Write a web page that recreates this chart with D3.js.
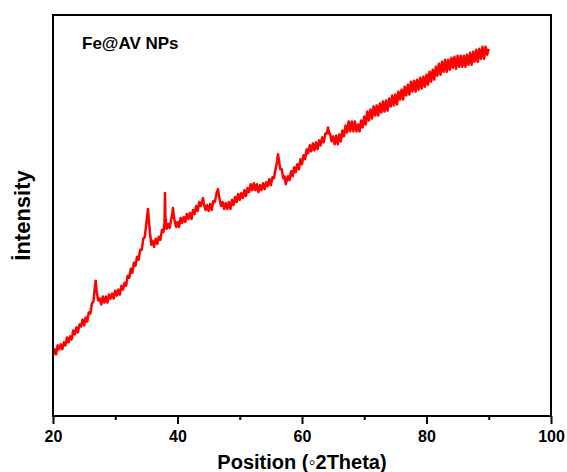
<!DOCTYPE html>
<html>
<head>
<meta charset="utf-8">
<script src="https://cdn.jsdelivr.net/npm/d3@7"></script>
<style>
  body { margin: 0; background: #fff; }
  text { font-family: Arial, "Liberation Sans", sans-serif; font-weight: bold; }
</style>
</head>
<body>
<svg id="chart" width="567" height="472"></svg>
<script>
// XRD pattern, Fe@AV NPs (a.u.)
var twoTheta = [
  20.00, 20.25, 20.50, 20.75, 21.00, 21.25, 21.50, 21.75,
  22.00, 22.25, 22.50, 22.75, 23.00, 23.25, 23.50, 23.75,
  24.00, 24.25, 24.50, 24.75, 25.00, 25.25, 25.50, 25.75,
  26.00, 26.25, 26.50, 26.70, 26.86, 27.00, 27.25, 27.50,
  27.75, 28.00, 28.25, 28.50, 28.75, 29.00, 29.25, 29.50,
  29.75, 30.00, 30.25, 30.50, 30.75, 31.00, 31.25, 31.50,
  31.75, 32.00, 32.25, 32.50, 32.75, 33.00, 33.25, 33.50,
  33.75, 34.00, 34.25, 34.50, 34.75, 35.00, 35.15, 35.26,
  35.40, 35.60, 35.80, 36.00, 36.25, 36.50, 36.75, 37.00,
  37.25, 37.50, 37.75, 37.92, 37.99, 38.06, 38.25, 38.50,
  38.75, 39.00, 39.15, 39.28, 39.40, 39.60, 39.80, 40.00,
  40.25, 40.50, 40.75, 41.00, 41.25, 41.50, 41.75, 42.00,
  42.25, 42.50, 42.75, 43.00, 43.25, 43.50, 43.75, 44.10,
  44.25, 44.50, 44.75, 45.00, 45.25, 45.50, 45.75, 46.00,
  46.25, 46.50, 46.75, 47.00, 47.25, 47.50, 47.75, 48.00,
  48.25, 48.50, 48.75, 49.00, 49.25, 49.50, 49.75, 50.00,
  50.25, 50.50, 50.75, 51.00, 51.25, 51.50, 51.75, 52.00,
  52.25, 52.50, 52.75, 53.00, 53.25, 53.50, 53.75, 54.00,
  54.25, 54.50, 54.75, 55.00, 55.25, 55.50, 55.75, 55.95,
  56.14, 56.30, 56.50, 56.75, 57.00, 57.20, 57.40, 57.75,
  58.00, 58.25, 58.50, 58.75, 59.00, 59.25, 59.50, 59.75,
  60.00, 60.25, 60.50, 60.75, 61.00, 61.25, 61.50, 61.75,
  62.00, 62.25, 62.50, 62.75, 63.00, 63.25, 63.50, 63.75,
  64.00, 64.18, 64.35, 64.50, 64.75, 65.00, 65.25, 65.50,
  65.75, 66.00, 66.25, 66.50, 66.75, 67.00, 67.25, 67.50,
  67.75, 68.00, 68.25, 68.50, 68.75, 69.00, 69.25, 69.50,
  69.75, 70.00, 70.25, 70.50, 70.75, 71.00, 71.25, 71.50,
  71.75, 72.00, 72.25, 72.50, 72.75, 73.00, 73.25, 73.50,
  73.75, 74.00, 74.25, 74.50, 74.75, 75.00, 75.25, 75.50,
  75.75, 76.00, 76.25, 76.50, 76.75, 77.00, 77.25, 77.50,
  77.75, 78.00, 78.25, 78.50, 78.75, 79.00, 79.25, 79.50,
  79.75, 80.00, 80.25, 80.50, 80.75, 81.00, 81.25, 81.50,
  81.75, 82.00, 82.25, 82.50, 82.75, 83.00, 83.25, 83.50,
  83.75, 84.00, 84.25, 84.50, 84.75, 85.00, 85.25, 85.50,
  85.75, 86.00, 86.25, 86.50, 86.75, 87.00, 87.25, 87.50,
  87.75, 88.00, 88.25, 88.50, 88.75, 89.00, 89.25, 89.50,
  89.75, 90.00
];
var intensity = [
  59, 65, 60, 69, 65, 70, 65, 72,
  69, 77, 72, 78, 75, 84, 80, 87,
  82, 90, 88, 95, 89, 97, 93, 102,
  101, 111, 113, 126, 134, 124, 114, 116,
  110, 118, 112, 118, 112, 120, 116, 121,
  116, 124, 119, 125, 120, 129, 125, 132,
  129, 139, 137, 146, 142, 152, 149, 158,
  155, 165, 165, 176, 178, 192, 200, 206,
  194, 181, 170, 174, 168, 176, 171, 178,
  175, 185, 183, 192, 222, 198, 186, 191,
  187, 196, 201, 207, 199, 192, 188, 193,
  188, 197, 192, 198, 193, 201, 196, 202,
  196, 205, 201, 209, 204, 213, 209, 217,
  211, 205, 210, 204, 211, 205, 214, 213,
  221, 226, 216, 209, 213, 206, 212, 206,
  213, 206, 215, 210, 218, 213, 221, 215,
  222, 217, 225, 219, 227, 223, 231, 225,
  232, 225, 231, 223, 230, 225, 232, 226,
  233, 229, 236, 230, 238, 237, 246, 252,
  261, 255, 246, 246, 237, 239, 231, 239,
  235, 244, 239, 248, 243, 251, 246, 256,
  251, 260, 256, 266, 262, 270, 264, 272,
  265, 273, 266, 275, 270, 278, 273, 282,
  282, 288, 282, 282, 274, 279, 271, 280,
  271, 281, 274, 285, 279, 290, 283, 294,
  284, 294, 284, 294, 284, 291, 284, 295,
  288, 299, 291, 304, 295, 306, 297, 309,
  300, 310, 300, 312, 303, 314, 304, 315,
  305, 317, 309, 320, 310, 321, 311, 324,
  316, 326, 316, 329, 320, 331, 321, 334,
  324, 335, 324, 336, 326, 338, 327, 339,
  329, 341, 331, 344, 334, 346, 336, 349,
  340, 352, 341, 354, 344, 356, 344, 356,
  346, 358, 348, 359, 347, 360, 349, 360,
  349, 360, 349, 361, 351, 363, 351, 364,
  354, 366, 354, 367, 357, 369, 357, 369,
  361, 367
];
var xTicks = [20, 40, 60, 80, 100];
var xMinorTicks = [30, 50, 70, 90];

var plotL = 53, plotR = 551, plotT = 15, plotB = 416;

var svg = d3.select('#chart');

var x = d3.scaleLinear().domain([20, 100]).range([plotL, plotR]);
var y = d3.scaleLinear().domain([-2, 401]).range([plotB, plotT]);

var pts = twoTheta.map(function(d, i){ return [d, intensity[i]]; });

var line = d3.line()
	.x(function(d) { return x(d[0]); })
	.y(function(d) { return y(d[1]); });

svg.append('path')
	.datum(pts)
	.attr('fill', 'none')
	.attr('stroke', '#ff0000')
	.attr('stroke-width', 2.5)
	.attr('stroke-linejoin', 'round')
	.attr('d', line);

// minor ticks
svg.append('g')
	.attr('transform', 'translate(0,' + plotB + ')')
	.call(d3.axisBottom(x).tickValues(xMinorTicks).tickSize(4).tickFormat(''))
	.call(function(g){ g.select('.domain').remove(); })
	.selectAll('line').attr('stroke', '#000').attr('stroke-width', 2);

// major ticks + labels
var xAxis = svg.append('g')
	.attr('transform', 'translate(0,' + plotB + ')')
	.call(d3.axisBottom(x).tickValues(xTicks).tickSize(8).tickPadding(7).tickFormat(d3.format('d')));
xAxis.select('.domain').remove();
xAxis.selectAll('line').attr('stroke', '#000').attr('stroke-width', 2);
xAxis.selectAll('text')
	.attr('fill', '#000')
	.style('font-size', '16px');

// frame
svg.append('rect')
	.attr('x', plotL).attr('y', plotT)
	.attr('width', plotR - plotL).attr('height', plotB - plotT)
	.attr('fill', 'none')
	.attr('stroke', '#000')
	.attr('stroke-width', 2);

svg.append('text')
	.attr('x', (plotL + plotR) / 2)
	.attr('y', 469)
	.attr('text-anchor', 'middle')
	.style('font-size', '20px')
	.text('Position (\u25E62Theta)');

svg.append('text')
	.attr('transform', 'translate(30,' + ((plotT + plotB) / 2) + ') rotate(-90)')
	.attr('text-anchor', 'middle')
	.style('font-size', '22px')
	.text('İntensity');

svg.append('text')
	.attr('x', 82)
	.attr('y', 49)
	.style('font-size', '17px')
	.text('Fe@AV NPs');
</script>
</body>
</html>
